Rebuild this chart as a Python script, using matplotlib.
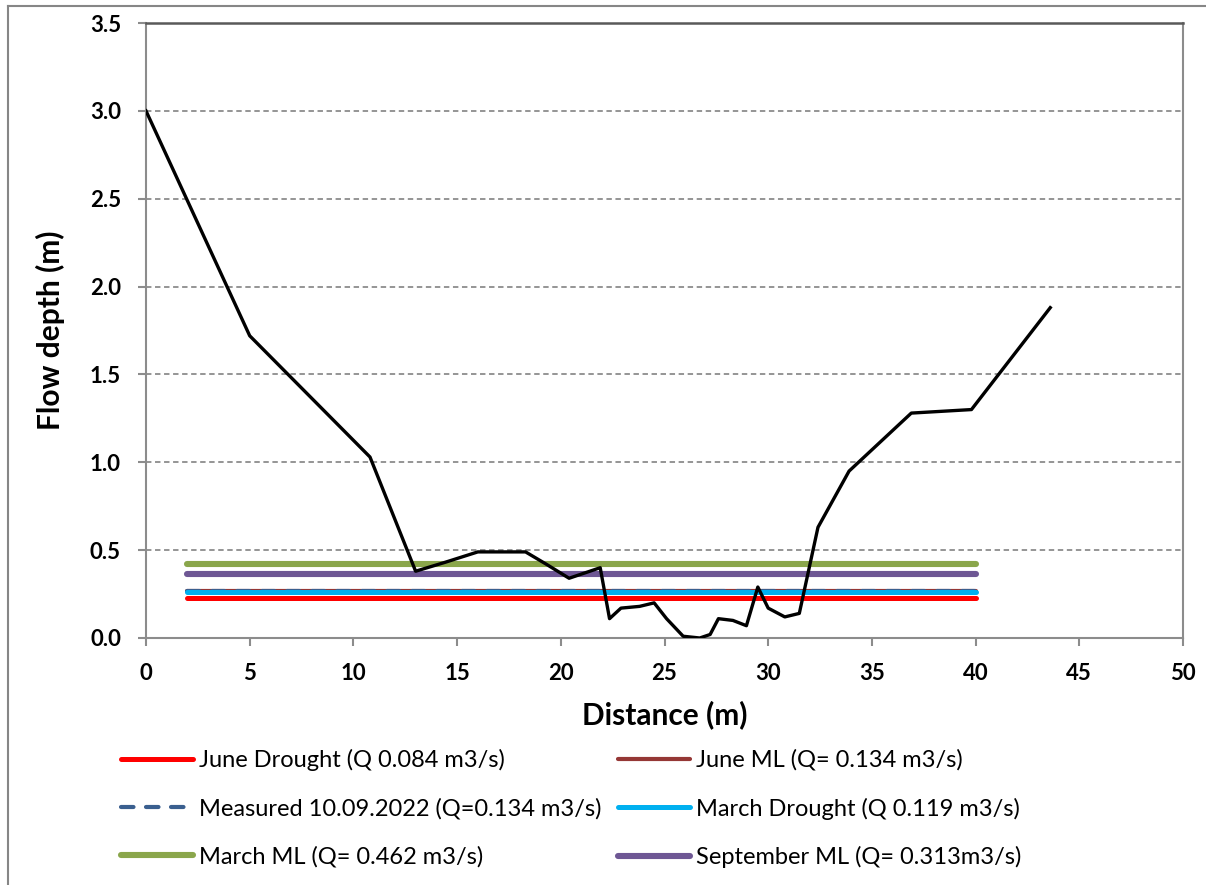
# River cross-section with simulated / measured water levels

import matplotlib.pyplot as plt
from matplotlib.lines import Line2D

### rcParams ###
plt.rcParams['font.family'] = ['Lato', 'DejaVu Sans']
plt.rcParams['font.size'] = 15

### data ###
distance = [0, 5.0, 10.8, 13.0, 14.4, 16.0, 18.3, 19.3, 20.4, 21.9, 22.35, 22.9,
            23.8, 24.5, 25.1, 25.9, 26.7, 27.2, 27.6, 28.3, 28.95, 29.5, 30.0,
            30.8, 31.5, 32.4, 33.9, 36.9, 39.8, 43.6]
depth = [3.0, 1.72, 1.03, 0.38, 0.43, 0.49, 0.49, 0.42, 0.34, 0.40, 0.11, 0.17,
         0.18, 0.20, 0.11, 0.01, 0.00, 0.02, 0.11, 0.10, 0.07, 0.29, 0.17,
         0.12, 0.14, 0.63, 0.95, 1.28, 1.30, 1.88]

wl_x = [2, 40]
levels = {
    'June Drought (Q 0.084 m3/s)': 0.23,
    'June ML (Q= 0.134 m3/s)': 0.27,
    'Measured 10.09.2022 (Q=0.134 m3/s)': 0.27,
    'March Drought (Q 0.119 m3/s)': 0.26,
    'March ML (Q= 0.462 m3/s)': 0.42,
    'September ML (Q= 0.313m3/s)': 0.365,
}
styles = {
    'June Drought (Q 0.084 m3/s)': dict(color='#FF0000', lw=3.6, ls='-'),
    'June ML (Q= 0.134 m3/s)': dict(color='#953735', lw=3.0, ls='-'),
    'Measured 10.09.2022 (Q=0.134 m3/s)': dict(color='#3A5F8F', lw=3.0, ls=(0, (3, 3))),
    'March Drought (Q 0.119 m3/s)': dict(color='#00B0F0', lw=3.6, ls='-'),
    'March ML (Q= 0.462 m3/s)': dict(color='#8AA64B', lw=4.4, ls='-'),
    'September ML (Q= 0.313m3/s)': dict(color='#6E5794', lw=4.4, ls='-'),
}
legend_order = ['June Drought (Q 0.084 m3/s)', 'Measured 10.09.2022 (Q=0.134 m3/s)',
                'March ML (Q= 0.462 m3/s)', 'June ML (Q= 0.134 m3/s)',
                'March Drought (Q 0.119 m3/s)', 'September ML (Q= 0.313m3/s)']

fig = plt.figure(figsize=(12.06, 8.85), dpi=100)
ax = fig.add_axes([146/1206, 1 - 638/885, (1183 - 146)/1206, (638 - 23)/885])

# outer chart border (left + top)
fig.add_artist(Line2D([8/1206, 8/1206], [0, 1 - 6/885], color='#868686', lw=1.5))
fig.add_artist(Line2D([8/1206, 1], [1 - 6/885, 1 - 6/885], color='#868686', lw=1.5))

handles = {}
for name, y in levels.items():
    st = styles[name]
    h, = ax.plot(wl_x, [y, y], color=st['color'], lw=st['lw'], ls=st['ls'],
                 solid_capstyle='round', dash_capstyle='round', zorder=3)
    handles[name] = h

ax.plot(distance, depth, color='black', lw=2.4, zorder=4)

ax.set_xlim(0, 50)
ax.set_ylim(0, 3.5)
ax.set_xticks(range(0, 51, 5))
ax.set_yticks([0, 0.5, 1.0, 1.5, 2.0, 2.5, 3.0, 3.5])
ax.set_yticklabels([f"{v:.1f}" for v in ax.get_yticks()])
ax.grid(axis='y', color='#8C8C8C', ls=(0, (3, 2)), lw=1.3, zorder=0)
ax.set_axisbelow(True)

for s in ['left', 'right', 'bottom']:
    ax.spines[s].set_color('#8C8C8C')
    ax.spines[s].set_linewidth(1.5)
ax.spines['top'].set_color('#595959')
ax.spines['top'].set_linewidth(1.8)
ax.tick_params(direction='out', length=6, width=1.5, color='#8C8C8C',
               labelsize=16, pad=12)
for lbl in ax.get_xticklabels() + ax.get_yticklabels():
    lbl.set_fontweight('bold')

ax.set_xlabel('Distance (m)', fontsize=21.5, fontweight='bold', labelpad=12)
ax.set_ylabel('Flow depth (m)', fontsize=21.5, fontweight='bold', labelpad=18)

fig.legend([handles[n] for n in legend_order], legend_order, ncol=2,
           loc='upper left', bbox_to_anchor=(109/1206, 1 - 737/885),
           frameon=False, fontsize=17, handlelength=3.05, handletextpad=0.25,
           columnspacing=0.7, labelspacing=1.13, borderpad=0)

fig.savefig('out.png', dpi=100)
